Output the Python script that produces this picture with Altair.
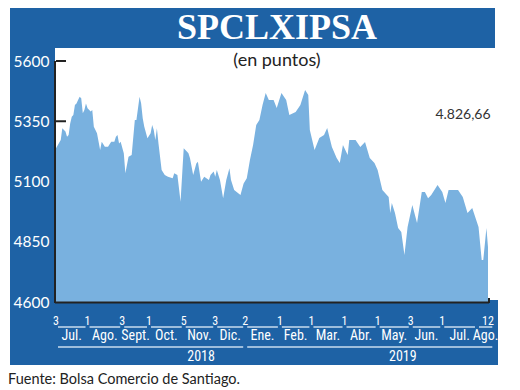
import altair as alt
import pandas as pd

# ---- data (trading session number since 3 Jul 2018, index points) ----
session = [0, 3, 4, 6, 7, 8, 9, 10, 11, 12, 13, 14, 15, 16, 17, 18, 19, 20, 22, 23, 24, 26,
           28, 29, 31, 33, 35, 37, 38, 39, 40, 41, 43, 44, 46, 48, 50, 51, 53, 54, 55, 56,
           58, 60, 61, 62, 63, 64, 65, 67, 69, 71, 74, 75, 77, 79, 81, 83, 84, 85, 87, 89,
           90, 92, 94, 97, 98, 100, 101, 102, 104, 106, 108, 110, 111, 113, 117, 119, 121,
           123, 125, 127, 129, 131, 133, 135, 138, 140, 143, 146, 148, 152, 155, 158, 160,
           161, 164, 167, 170, 172, 175, 178, 180, 182, 185, 186, 190, 193, 196, 199, 202,
           204, 207, 211, 212, 213, 215, 217, 219, 221, 223, 226, 229, 232, 234, 236, 238,
           242, 245, 247, 249, 252, 255, 258, 261, 264, 268, 270, 271, 273, 274]
value = [5238, 5272, 5321, 5307, 5286, 5293, 5341, 5369, 5376, 5417, 5424, 5438, 5452, 5445,
         5383, 5397, 5424, 5404, 5390, 5397, 5327, 5300, 5231, 5265, 5244, 5244, 5265, 5265,
         5286, 5293, 5258, 5265, 5217, 5134, 5203, 5210, 5355, 5355, 5452, 5424, 5362, 5327,
         5279, 5300, 5334, 5314, 5272, 5321, 5258, 5148, 5127, 5120, 5113, 5134, 5127, 5016,
         5238, 5224, 5217, 5196, 5127, 5175, 5182, 5099, 5120, 5106, 5127, 5141, 5120, 5148,
         5106, 5030, 5106, 5155, 5106, 5065, 5044, 5092, 5113, 5189, 5251, 5334, 5355, 5417,
         5467, 5438, 5438, 5405, 5467, 5438, 5376, 5388, 5417, 5480, 5459, 5314, 5231, 5280,
         5293, 5322, 5243, 5197, 5177, 5251, 5210, 5272, 5272, 5243, 5264, 5197, 5177, 5148,
         5065, 5036, 4969, 5011, 4969, 4907, 4890, 4795, 4911, 5002, 4928, 5056, 5056, 5031,
         5044, 5085, 5056, 5011, 5065, 5065, 5065, 5036, 4969, 4990, 4911, 4774, 4774, 4907,
         4827]

y_ticks = [4600, 4850, 5100, 5350, 5600]

tick_session = [0, 20, 42, 59, 81, 101, 120, 142, 162, 183, 204, 225, 245, 274]
tick_day = ["3", "1", "3", "1", "5", "3", "2", "1", "1", "1", "1", "3", "1", "12"]

month_name = ["Jul.", "Ago.", "Sept.", "Oct.", "Nov.", "Dic.", "Ene.", "Feb.", "Mar.",
              "Abr.", "May.", "Jun.", "Jul.", "Ago."]
month_start = [0, 20, 42, 59, 81, 101, 120, 142, 162, 183, 204, 225, 245, 267]
month_end = [20, 42, 59, 81, 101, 120, 142, 162, 183, 204, 225, 245, 267, 278]

year_name = ["2018", "2019"]
year_start = [0, 120]
year_end = [120, 278]
year_label_at = [92, 220]

title_text = "SPCLXIPSA"
subtitle_text = "(en puntos)"
last_value_text = "4.826,66"
source_text = "Fuente: Bolsa Comercio de Santiago."

# ---- styling ----
BLUE = "#1e62a5"
FILL = "#79b1df"
NARROW = "Liberation Sans Narrow, Roboto Condensed, Roboto, sans-serif"
SANS = "Lato, Open Sans, sans-serif"

W, H = 432, 241

series = pd.DataFrame({"session": session, "value": value})
ticks_df = pd.DataFrame({"session": tick_session, "day": tick_day})
months_df = pd.DataFrame({"name": month_name, "start": month_start, "end": month_end})
months_df["mid"] = (months_df["start"] + months_df["end"]) / 2
years_df = pd.DataFrame({"name": year_name, "start": year_start, "end": year_end,
                         "at": year_label_at})
yt_df = pd.DataFrame({"value": y_ticks})
one = pd.DataFrame({"k": [0]})

xs = alt.Scale(domain=[0, 274], nice=False, zero=False)
ys = alt.Scale(domain=[4600, 5600], nice=False, zero=False)


def frame(x1, x2, y1, y2):
    return alt.Chart(one).mark_rect(color=BLUE).encode(
        x=alt.value(x1), x2=alt.value(x2), y=alt.value(y1), y2=alt.value(y2))


header = frame(-46, 439, -56, -13)
left_strip = frame(-46, -1, -13, 304)
bottom_strip = frame(-1, 442, 239, 304)

ytick_rules = alt.Chart(yt_df).mark_rule(color="#222", strokeWidth=2).encode(
    y=alt.Y("value:Q", scale=ys,
            axis=alt.Axis(values=y_ticks, format="d", labelColor="white", domain=False,
                          ticks=False, grid=False, labelPadding=7, labelFontSize=15.5,
                          labelFont=SANS, title=None, labelBaseline="middle", zindex=2)),
    x=alt.value(0), x2=alt.value(10))

area = alt.Chart(series).mark_area(color=FILL, opacity=1).encode(
    x=alt.X("session:Q", scale=xs, axis=None),
    y=alt.Y("value:Q", scale=ys),
    y2=alt.datum(4600))

left_line = alt.Chart(one).mark_rule(color="#222", strokeWidth=2).encode(
    x=alt.value(-1), y=alt.value(0), y2=alt.value(242))
bottom_line = alt.Chart(one).mark_rule(color="#222", strokeWidth=2).encode(
    x=alt.value(-1), x2=alt.value(433), y=alt.value(241.5))
end_tick = alt.Chart(one).mark_rule(color="#222", strokeWidth=2).encode(
    x=alt.value(433), y=alt.value(237), y2=alt.value(242))

day_text = alt.Chart(ticks_df).mark_text(color="white", font=NARROW, fontSize=12,
                                         baseline="middle").encode(
    x=alt.X("session:Q", scale=xs), y=alt.value(260), text="day:N")

month_rules = alt.Chart(months_df).mark_rule(color="#c9dcef", strokeWidth=1.5,
                                             xOffset=2, x2Offset=-2).encode(
    x=alt.X("start:Q", scale=xs), x2="end:Q", y=alt.value(266))
month_text = alt.Chart(months_df).mark_text(color="white", font=NARROW, fontSize=14,
                                            baseline="middle").encode(
    x=alt.X("mid:Q", scale=xs), y=alt.value(274.5), text="name:N")

year_rules = alt.Chart(years_df).mark_rule(color="#c9dcef", strokeWidth=1.5,
                                           xOffset=2, x2Offset=-2).encode(
    x=alt.X("start:Q", scale=xs), x2="end:Q", y=alt.value(286))
year_text = alt.Chart(years_df).mark_text(color="white", font=NARROW, fontSize=14,
                                          baseline="middle").encode(
    x=alt.X("at:Q", scale=xs), y=alt.value(296), text="name:N")

title = alt.Chart(one).mark_text(text=title_text, color="white", font="Liberation Serif",
                                 fontWeight="bold", fontSize=36, align="center",
                                 baseline="alphabetic").encode(
    x=alt.value(221), y=alt.value(-22))
subtitle = alt.Chart(one).mark_text(text=subtitle_text, color="#222", font=SANS,
                                    fontSize=18, align="center",
                                    baseline="alphabetic").encode(
    x=alt.value(221), y=alt.value(5))
last_val = alt.Chart(one).mark_text(text=last_value_text, color="#333", font=SANS,
                                    fontSize=14, align="center",
                                    baseline="middle").encode(
    x=alt.value(407), y=alt.value(54))
source = alt.Chart(one).mark_text(text=source_text, color="#222", font=SANS,
                                  fontSize=14.5, align="left",
                                  baseline="alphabetic").encode(
    x=alt.value(-48), y=alt.value(323))

chart = alt.layer(
    header, left_strip, bottom_strip, ytick_rules, area, left_line, bottom_line, end_tick,
    day_text, month_rules, month_text, year_rules, year_text, title, subtitle, last_val,
    source
).properties(
    width=W, height=H,
    autosize=alt.AutoSizeParams(type="none"),
    padding={"left": 48, "top": 53, "right": 20, "bottom": 88},
    background="white",
).configure_view(stroke=None)

chart.save("out.html", embed_options={"renderer": "svg", "actions": False})
